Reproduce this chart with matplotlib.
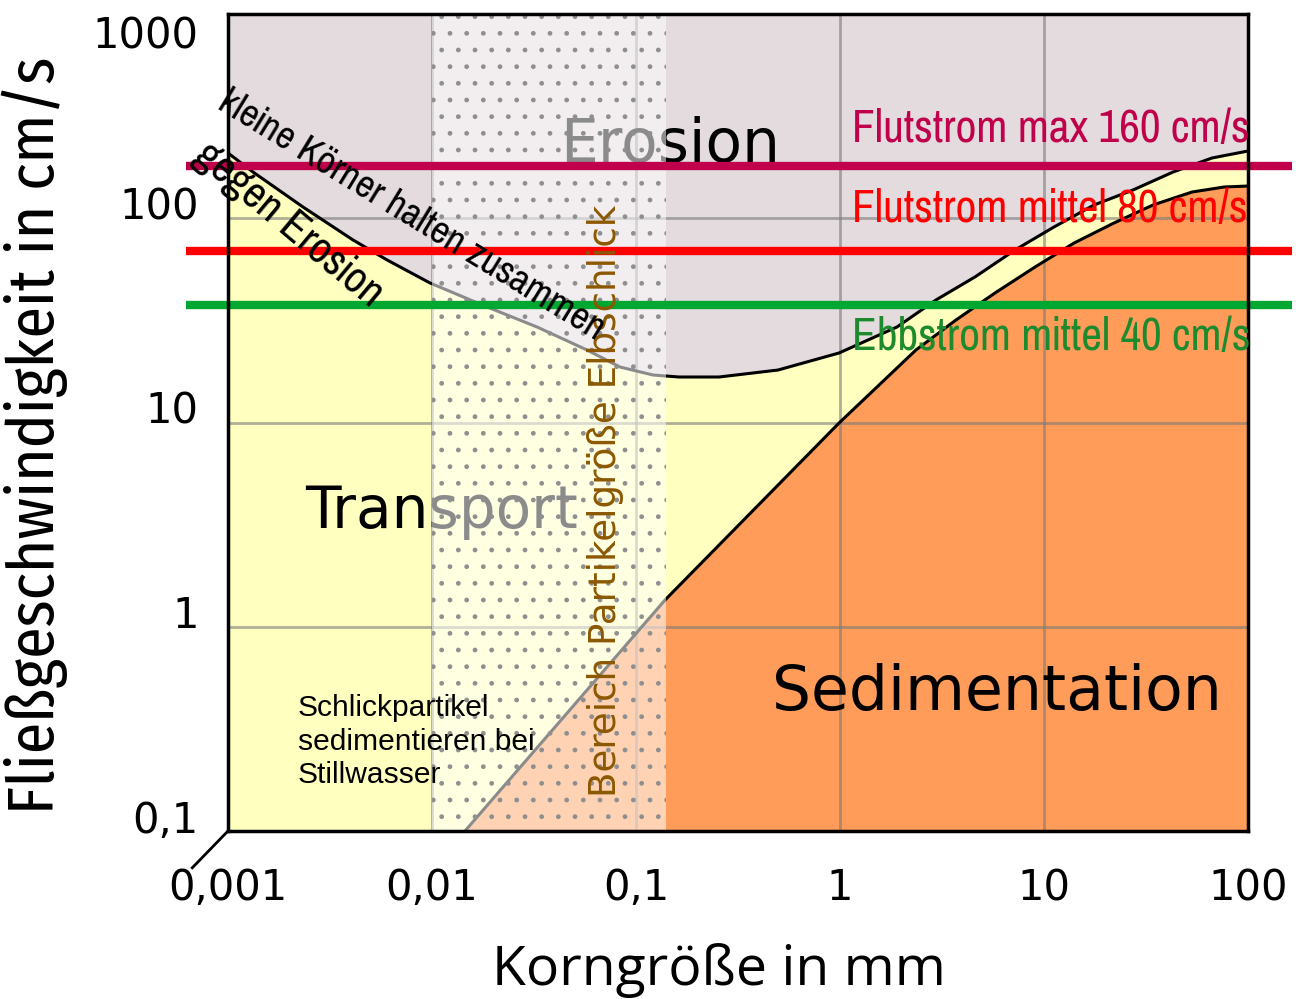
import matplotlib
matplotlib.use("Agg")
import matplotlib.pyplot as plt
import matplotlib.transforms as mtransforms
from matplotlib import font_manager as fm

# ---- data ----
erosion_x = [0.001, 0.001326, 0.002332, 0.004099, 0.006018, 0.009777, 0.01861, 0.03271, 0.05751,
             0.08347, 0.1212, 0.1625, 0.2552, 0.4969, 0.9888, 1.903, 2.955, 4.590, 7.208, 11.19,
             17.59, 27.31, 42.9, 66.6, 100]
erosion_y = [208.7, 168.4, 113.5, 78.3, 62.5, 48.2, 36.8, 29.35, 22.65,
             18.69, 17.08, 16.70, 16.70, 18.07, 21.89, 29.35, 39.8, 51.6, 69.9, 90.6,
             116.1, 137.5, 168.4, 197.2, 213.4]

sed_x = [0.01451, 0.1388, 0.9888, 1.518, 2.357, 3.704, 5.751, 9.035, 14.03, 22.03, 34.21, 53.16, 76.3, 100]
sed_y = [0.1, 1.352, 9.94, 14.92, 22.65, 31.76, 43.06, 57.7, 75.6, 94.8, 116.1, 134.4, 142.2, 143.8]

flow_names = ["Flutstrom max 160 cm/s", "Flutstrom mittel 80 cm/s", "Ebbstrom mittel 40 cm/s"]
flow_levels = [181, 69.4, 37.6]
flow_line_colors = ["#c0004a", "#ff0000", "#00a832"]
flow_text_colors = ["#c0004a", "#ff0000", "#1e8a2e"]

silt_range = [0.01, 0.14]

x_ticks = [0.001, 0.01, 0.1, 1, 10, 100]
x_ticklabels = ["0,001", "0,01", "0,1", "1", "10", "100"]
y_ticks = [0.1, 1, 10, 100, 1000]
y_ticklabels = ["0,1", "1", "10", "100", "1000"]

# ---- fonts ----
avail = {f.name for f in fm.fontManager.ttflist}


def pick(*cands):
    for c in cands:
        if c in avail:
            return c
    return "DejaVu Sans"


NARROW = pick("Liberation Sans Narrow", "Nimbus Sans Narrow", "Arial Narrow", "Pragati Narrow",
              "Archivo Narrow", "PT Sans Narrow", "Roboto Condensed")
COND_HUM = pick("Fira Sans Condensed", "PT Sans Narrow", "Roboto Condensed",
                "Barlow Semi Condensed")
ARIAL = pick("Liberation Sans", "Arimo", "DejaVu Sans")
OPEN = pick("Open Sans", "Noto Sans", "DejaVu Sans")

W, H = 1298, 999
fig = plt.figure(figsize=(W / 100, H / 100), dpi=100)
renderer = fig.canvas.get_renderer()


def fx(px):
    return px / W


def fy(py):
    return 1 - py / H


def fit(t, target_px):
    rot = t.get_rotation()
    t.set_rotation(0)
    w = t.get_window_extent(renderer).width
    t.set_fontsize(t.get_fontsize() * target_px / w)
    t.set_rotation(rot)


ax = fig.add_axes([fx(228), fy(831), 1020 / W, 817 / H])
ax.set_xscale("log")
ax.set_yscale("log")
ax.set_xlim(0.001, 100)
ax.set_ylim(0.1, 1000)
ax.set_facecolor("#ffffc0")

# regions
ax.fill_between(erosion_x, erosion_y, 1000, color="#e3dbde", lw=0, zorder=1)
ax.fill_between(sed_x, 0.1, sed_y, color="#ff9c5a", lw=0, zorder=1)

# grid
for xv in x_ticks[1:-1]:
    ax.axvline(xv, color="#7a7a7a", alpha=0.6, lw=2, zorder=2)
for yv in y_ticks[1:-1]:
    ax.axhline(yv, color="#7a7a7a", alpha=0.6, lw=2, zorder=2)

# curves
ax.plot(erosion_x, erosion_y, color="black", lw=2.2, zorder=3, solid_joinstyle="round")
ax.plot(sed_x, sed_y, color="black", lw=2.2, zorder=3, solid_joinstyle="round")

# big region labels (below the silt overlay)
t = ax.text(fx(560), fy(162), "Erosion", transform=fig.transFigure, fontsize=44, ha="left",
            va="baseline", color="black", zorder=3, family="DejaVu Sans", clip_on=False)
fit(t, 220)
t = ax.text(fx(305), fy(528), "Transport", transform=fig.transFigure, fontsize=41, ha="left",
            va="baseline", color="black", zorder=3, family="DejaVu Sans", clip_on=False)
fit(t, 273)
t = ax.text(fx(772), fy(710), "Sedimentation", transform=fig.transFigure, fontsize=44, ha="left",
            va="baseline", color="black", zorder=5, family="DejaVu Sans", clip_on=False)
fit(t, 450)

# silt overlay (lighter + dots)
ax.axvspan(silt_range[0], silt_range[1], facecolor="white", alpha=0.55, lw=0, zorder=4)
plt.rcParams["hatch.linewidth"] = 1.0
ax.axvspan(silt_range[0], silt_range[1], facecolor="none", edgecolor="#8f8f8f",
           hatch=".", lw=0, zorder=4)

# flow lines
for lvl, c in zip(flow_levels, flow_line_colors):
    ax.plot([-0.041, 1.043], [lvl, lvl], transform=ax.get_yaxis_transform(),
            color=c, lw=6, clip_on=False, zorder=6, solid_capstyle="butt")

flow_text_y = [142, 222, 350]
flow_text_w = [398, 396, 399]
for name, c, ty, tw in zip(flow_names, flow_text_colors, flow_text_y, flow_text_w):
    t = fig.text(fx(852), fy(ty), name, fontsize=27, color=c, ha="left",
                 va="baseline", family=NARROW, zorder=7)
    fit(t, tw)

# annotations
t = fig.text(fx(606), fy(501), "Bereich Partikelgröße Elbschlick", rotation=90,
             fontsize=27, color="#8c5800", ha="center", va="center", family="DejaVu Sans", zorder=7)
fit(t, 593)
t = fig.text(fx(298), fy(694), "Schlickpartikel\nsedimentieren bei\nStillwasser",
             fontsize=21, color="black", ha="left", va="top", linespacing=1.25,
             family=ARIAL, zorder=7)
fit(t, 237)
t = fig.text(fx(231), fy(84), "kleine Körner halten zusammen",
             rotation=-31.5, rotation_mode="anchor", fontsize=30, color="black",
             ha="left", va="top", family=NARROW, zorder=7)
fit(t, 445)
t = fig.text(fx(213), fy(134), "gegen Erosion",
             rotation=-40, rotation_mode="anchor", fontsize=30, color="black",
             ha="left", va="top", family=NARROW, zorder=7)
fit(t, 232)

# frame
for s in ax.spines.values():
    s.set_linewidth(2.5)
    s.set_zorder(8)
ax.plot([0, -0.035], [0, -0.045], transform=ax.transAxes, color="black", lw=2,
        clip_on=False, zorder=8)

# ticks
ax.set_xticks(x_ticks)
ax.set_xticklabels(x_ticklabels)
ax.set_yticks(y_ticks)
ax.set_yticklabels(y_ticklabels)
ax.minorticks_off()
ax.tick_params(axis="both", length=0, labelsize=30)
ax.tick_params(axis="x", pad=26)
ax.tick_params(axis="y", pad=21)
for lab in ax.get_xticklabels() + ax.get_yticklabels():
    lab.set_family("DejaVu Sans")
up = mtransforms.ScaledTranslation(0, 15 / 100, fig.dpi_scale_trans)
down = mtransforms.ScaledTranslation(0, -18 / 100, fig.dpi_scale_trans)
for lab, v in zip(ax.get_yticklabels(), y_ticks):
    lab.set_transform(lab.get_transform() + (down if v == 1000 else up))

t = fig.text(fx(35), fy(435), "Fließgeschwindigkeit in cm/s", rotation=90, fontsize=37,
             ha="center", va="center", family=COND_HUM, fontweight="normal")
fit(t, 760)
t = fig.text(fx(719), fy(970), "Korngröße in mm", fontsize=38, ha="center", va="center",
             family=OPEN)
fit(t, 453)

fig.savefig("out.png", dpi=100, facecolor="white")
